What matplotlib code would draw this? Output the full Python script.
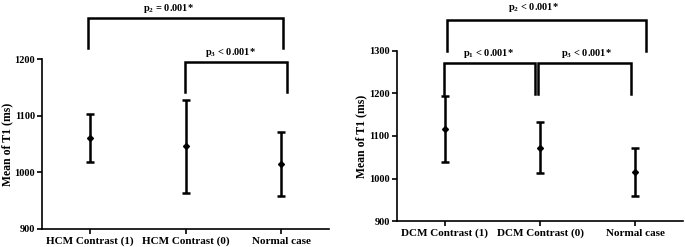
import matplotlib
matplotlib.use("Agg")
import matplotlib.pyplot as plt

plt.rcParams['font.family'] = ['Liberation Serif', 'DejaVu Serif']
plt.rcParams['font.weight'] = 'bold'
plt.rcParams['mathtext.fontset'] = 'custom'
plt.rcParams['mathtext.rm'] = 'Liberation Serif:bold'
plt.rcParams['mathtext.bf'] = 'Liberation Serif:bold'
plt.rcParams['mathtext.default'] = 'bf'

# left panel (HCM)
hcm_labels = ['HCM Contrast (1)', 'HCM Contrast (0)', 'Normal case']
hcm_mean = [1060, 1046, 1015]
hcm_upper = [1103, 1128, 1071]
hcm_lower = [1018, 964, 959]

# right panel (DCM)
dcm_labels = ['DCM Contrast (1)', 'DCM Contrast (0)', 'Normal case']
dcm_mean = [1117, 1071, 1015]
dcm_upper = [1193, 1132, 1071]
dcm_lower = [1040, 1012, 959]

# brackets: (x0, x1, y_leg_bottom, y_top, label, text_x, text_y)
hcm_brackets = [
    (-0.02, 2.02, 1219, 1272, r'p$_2$ = 0.001*', 0.82, 1290),
    (0.995, 2.06, 1142, 1195, r'p$_3$ < 0.001*', 1.47, 1211),
]
dcm_brackets = [
    (0.02, 2.11, 1300, 1373, r'p$_2$ < 0.001*', 0.93, 1402),
    (-0.01, 0.95, 1199, 1272, r'p$_1$ < 0.001*', 0.46, 1295),
    (0.98, 1.95, 1199, 1272, r'p$_3$ < 0.001*', 1.49, 1295),
]


def draw(ax, labels, mean, upper, lower, brackets, ylim):
    x = list(range(len(labels)))
    yerr = [[m - l for m, l in zip(mean, lower)], [u - m for m, u in zip(mean, upper)]]
    ax.errorbar(x, mean, yerr=yerr, fmt='D', color='black', ms=3,
                elinewidth=1.8, capsize=3, capthick=1.8)
    ax.set_xlim(-0.5, 2.5)
    ax.set_ylim(*ylim)
    ax.set_yticks(range(ylim[0], ylim[1] + 1, 100))
    ax.set_xticks(x)
    ax.set_xticklabels(labels, fontsize=8, fontweight='bold')
    ax.tick_params(axis='y', labelsize=7.5, length=3.5, width=1.2, pad=2)
    ax.tick_params(axis='x', length=3.5, width=1.2, pad=2)
    for lab in ax.get_yticklabels():
        lab.set_fontweight('bold')
    ax.set_ylabel('Mean of T1 (ms)', fontsize=8.5, fontweight='bold', labelpad=1)
    ax.spines['top'].set_visible(False)
    ax.spines['right'].set_visible(False)
    ax.spines['left'].set_linewidth(1.2)
    ax.spines['bottom'].set_linewidth(1.2)
    for x0, x1, yb, yt, txt, tx, ty in brackets:
        ax.plot([x0, x0, x1, x1], [yb, yt, yt, yb], color='black', lw=1.8,
                clip_on=False, solid_joinstyle='miter')
        ax.text(tx, ty, txt, ha='center', va='center', fontsize=7.5,
                fontweight='bold')


fig = plt.figure(figsize=(6.85, 2.47), dpi=100)
ax1 = fig.add_axes([0.062, 0.073, 0.418, 0.688])
ax2 = fig.add_axes([0.580, 0.105, 0.417, 0.689])

draw(ax1, hcm_labels, hcm_mean, hcm_upper, hcm_lower, hcm_brackets, (900, 1200))
draw(ax2, dcm_labels, dcm_mean, dcm_upper, dcm_lower, dcm_brackets, (900, 1300))

fig.savefig('out.png', dpi=100)
